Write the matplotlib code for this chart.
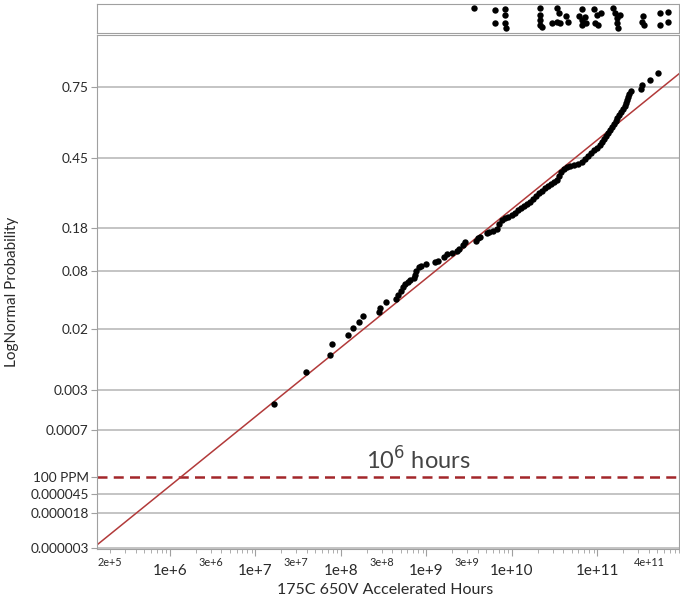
import matplotlib
matplotlib.use('Agg')
import matplotlib.pyplot as plt
import matplotlib.ticker as mticker
import numpy as np
from statistics import NormalDist

plt.rcParams['font.family'] = ['Lato', 'DejaVu Sans']

# failure times (hours) and their plotting positions
fail_hours = [1.64e7, 3.90e7, 7.43e7, 7.85e7, 1.21e8, 1.38e8, 1.63e8, 1.81e8, 2.78e8, 2.86e8,
              3.36e8, 4.40e8, 4.64e8, 5.04e8, 5.31e8, 5.61e8, 6.08e8, 6.41e8, 7.14e8, 7.33e8,
              7.54e8, 8.17e8, 8.63e8, 9.86e8, 1.26e9, 1.36e9, 1.60e9, 1.74e9, 1.99e9, 2.28e9,
              2.40e9, 2.67e9, 2.82e9, 3.79e9, 4.00e9, 4.23e9, 5.10e9, 5.38e9, 6.00e9, 6.68e9,
              7.05e9, 7.64e9, 8.28e9, 8.97e9, 1.00e10, 1.08e10, 1.18e10, 1.27e10, 1.38e10, 1.50e10,
              1.62e10, 1.76e10, 1.91e10, 2.07e10, 2.24e10, 2.43e10, 2.64e10, 2.86e10, 3.10e10, 3.36e10,
              3.55e10, 3.74e10, 4.06e10, 4.40e10, 4.76e10, 5.31e10, 5.92e10, 6.59e10, 7.14e10, 7.74e10,
              8.39e10, 9.10e10, 9.86e10, 1.07e11, 1.13e11, 1.19e11, 1.26e11, 1.33e11, 1.40e11, 1.48e11,
              1.56e11, 1.64e11, 1.69e11, 1.78e11, 1.88e11, 1.99e11, 2.10e11, 2.15e11, 2.21e11, 2.28e11,
              2.33e11, 2.47e11, 3.23e11, 3.31e11, 4.11e11, 5.10e11]
fail_prob = [0.00188, 0.0056, 0.00956, 0.0132, 0.0171, 0.0207, 0.0243, 0.0284, 0.0315, 0.0348,
             0.0403, 0.0433, 0.0476, 0.0522, 0.0572, 0.0613, 0.0640, 0.0667, 0.0699, 0.0746,
             0.0810, 0.0881, 0.0899, 0.0936, 0.0971, 0.0992, 0.1076, 0.1136, 0.1159, 0.1204,
             0.1252, 0.1344, 0.1421, 0.1446, 0.1525, 0.1550, 0.1660, 0.1688, 0.1716, 0.1775,
             0.1924, 0.2049, 0.2113, 0.2146, 0.2215, 0.2281, 0.2383, 0.2455, 0.2526, 0.2600,
             0.2671, 0.2784, 0.2900, 0.3017, 0.3093, 0.3215, 0.3298, 0.3377, 0.3461, 0.3543,
             0.3712, 0.3883, 0.4014, 0.4103, 0.4145, 0.4188, 0.4231, 0.4322, 0.4456, 0.4590,
             0.4721, 0.4857, 0.4948, 0.5080, 0.5215, 0.5351, 0.5485, 0.5619, 0.5750, 0.5882,
             0.6013, 0.6144, 0.6273, 0.6400, 0.6524, 0.6648, 0.6770, 0.6893, 0.7011, 0.7124,
             0.7240, 0.7351, 0.7422, 0.7570, 0.7740, 0.7970]

# dot strip above the plot (hours, jitter height 0..1)
strip_hours = [3.60e9, 6.32e9, 6.32e9, 8.28e9, 8.28e9, 8.28e9, 8.5e9,
               2.12e10, 2.12e10, 2.12e10, 2.12e10, 2.24e10, 2.94e10, 3.36e10, 3.55e10, 3.36e10, 3.65e10,
               4.28e10, 4.5e10, 6.08e10, 6.59e10, 6.59e10, 6.59e10, 7.14e10, 7.35e10,
               9.10e10, 9.86e10, 9.3e10, 1.01e11, 1.10e11, 1.52e11, 1.6e11, 1.69e11, 1.69e11, 1.73e11,
               1.83e11, 3.40e11, 3.31e11, 3.5e11, 5.38e11, 6.68e11, 6.68e11, 5.38e11]
strip_jitter = [0.86, 0.79, 0.34, 0.83, 0.62, 0.34, 0.17,
                0.86, 0.62, 0.45, 0.28, 0.21, 0.34, 0.86, 0.69, 0.38, 0.34,
                0.59, 0.38, 0.59, 0.83, 0.45, 0.28, 0.55, 0.34,
                0.83, 0.62, 0.34, 0.28, 0.69, 0.86, 0.69, 0.52, 0.34, 0.17,
                0.62, 0.59, 0.38, 0.28, 0.69, 0.72, 0.38, 0.28]

# fitted lognormal line (end points)
fit_hours = [1.4e5, 9.0e11]
fit_prob = [3.6e-6, 0.794]

ppm_level = 1e-4

ytick_vals = [0.000003, 0.000018, 0.000045, 0.0001, 0.0007, 0.003, 0.02, 0.08, 0.18, 0.45, 0.75]
ytick_labels = ['0.000003', '0.000018', '0.000045', '100 PPM', '0.0007', '0.003', '0.02',
                '0.08', '0.18', '0.45', '0.75']
xmajor_vals = [1e6, 1e7, 1e8, 1e9, 1e10, 1e11]
xmajor_labels = ['1e+6', '1e+7', '1e+8', '1e+9', '1e+10', '1e+11']
xminor_vals = [2e5, 3e6, 3e7, 3e8, 3e9, 4e11]
xminor_labels = ['2e+5', '3e+6', '3e+7', '3e+8', '3e+9', '4e+11']

_nd = NormalDist()
_ppf = np.vectorize(_nd.inv_cdf, otypes=[float])
_cdf = np.vectorize(_nd.cdf, otypes=[float])


def prob_fwd(p):
    p = np.clip(np.asarray(p, dtype=float), 1e-12, 1 - 1e-12)
    return _ppf(p)


def prob_inv(z):
    return _cdf(np.asarray(z, dtype=float))


def minor_fmt(v, pos):
    for val, lab in zip(xminor_vals, xminor_labels):
        if abs(v / val - 1) < 1e-6:
            return lab
    return ''


frame = '#a0a0a0'
grid_c = '#b4b4b4'
text_c = '#2a2a2a'
red = '#b23a3a'

fig = plt.figure(figsize=(6.8, 6), dpi=100)
ax = fig.add_axes([0.1426, 0.085, 0.856, 0.857])
strip = fig.add_axes([0.1426, 0.945, 0.856, 0.048])

# main probability plot
ax.set_xscale('log')
ax.set_yscale('function', functions=(prob_fwd, prob_inv))
ax.set_xlim(1.4e5, 9.0e11)
ax.set_ylim(2.9e-6, 0.896)

for v in ytick_vals:
    if v != ppm_level:
        ax.axhline(v, color=grid_c, lw=1.1, zorder=0)
ax.axhline(ppm_level, color='#a3262a', lw=1.8, ls=(0, (4, 2.5)), zorder=1)

ax.plot(fit_hours, fit_prob, color=red, lw=1.1, zorder=2)
ax.plot(fail_hours, fail_prob, 'o', color='black', ms=4.6, mec='none', zorder=3)

ax.yaxis.set_major_locator(mticker.FixedLocator(ytick_vals))
ax.yaxis.set_major_formatter(mticker.FixedFormatter(ytick_labels))
ax.yaxis.set_minor_locator(mticker.NullLocator())

ax.xaxis.set_major_locator(mticker.FixedLocator(xmajor_vals))
ax.xaxis.set_major_formatter(mticker.FixedFormatter(xmajor_labels))
ax.xaxis.set_minor_locator(mticker.LogLocator(base=10, subs=np.arange(2, 10), numticks=30))
ax.xaxis.set_minor_formatter(mticker.FuncFormatter(minor_fmt))

ax.tick_params(axis='y', length=4, color=frame, labelsize=9.8, labelcolor=text_c, pad=2)
ax.tick_params(axis='x', which='major', length=5, color=frame, labelsize=11,
               labelcolor=text_c, pad=6)
ax.tick_params(axis='x', which='minor', length=3, color=frame, labelsize=7.8,
               labelcolor=text_c, pad=3)

for s in ax.spines.values():
    s.set_color(frame)

fig.text(0.566, 0.017, '175C 650V Accelerated Hours', fontsize=11.5, color=text_c,
         ha='center', va='center')
fig.text(0.018, 0.513, 'LogNormal Probability', fontsize=11, color=text_c,
         ha='center', va='center', rotation=90)

ax.text(0.552, 0.173, '10$^{6}$ hours', transform=ax.transAxes, fontsize=17,
        color='#444444', ha='center', va='center')

# dot strip on top
strip.set_xscale('log')
strip.set_xlim(1.4e5, 9.0e11)
strip.set_ylim(0, 1)
strip.plot(strip_hours, strip_jitter, 'o', color='black', ms=4.6, mec='none')
strip.set_xticks([])
strip.set_yticks([])
strip.xaxis.set_minor_locator(mticker.NullLocator())
for s in strip.spines.values():
    s.set_color(frame)

fig.savefig('out.png', dpi=100)
